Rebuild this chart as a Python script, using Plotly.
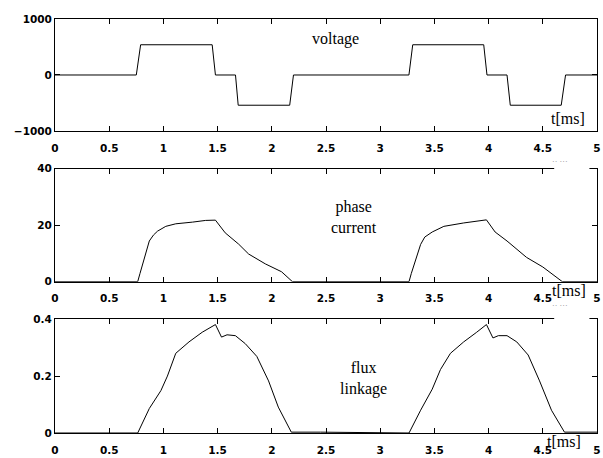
import plotly.graph_objects as go

# ---- data ----
voltage_t = [0, 0.75, 0.79, 1.45, 1.48, 1.665, 1.69, 2.165, 2.2, 3.265, 3.30, 3.955, 3.985, 4.17, 4.20, 4.67, 4.71, 5]
voltage_v = [0, 0, 540, 540, 0, 0, -540, -540, 0, 0, 540, 540, 0, 0, -540, -540, 0, 0]

current_t = [0, 0.763, 0.784, 0.81, 0.839, 0.87, 0.908, 0.946, 1.022, 1.114, 1.27, 1.39, 1.48, 1.57, 1.694, 1.786, 1.94, 2.09, 2.19,
             3.266, 3.287, 3.313, 3.342, 3.373, 3.411, 3.48, 3.587, 3.77, 3.98, 4.06, 4.17, 4.35, 4.50, 4.68, 5]
current_v = [0, 0, 2.9, 6.3, 10.9, 14.4, 16.5, 17.9, 19.6, 20.5, 21.1, 21.7, 21.8, 17.3, 13.3, 9.8, 6.3, 3.5, 0,
             0, 2.9, 6.3, 9.8, 13.2, 15.8, 17.6, 19.6, 20.8, 21.9, 17.6, 14.4, 8.6, 5.2, 0, 0]

flux_t = [0, 0.763, 0.87, 0.977, 1.037, 1.114, 1.236, 1.358, 1.48, 1.536, 1.587, 1.664, 1.755, 1.862, 1.97, 2.06, 2.18, 2.45,
          3.266, 3.373, 3.48, 3.556, 3.648, 3.77, 3.89, 3.98, 4.04, 4.09, 4.17, 4.26, 4.365, 4.47, 4.58, 4.70, 5]
flux_v = [0, 0, 0.086, 0.149, 0.2, 0.28, 0.32, 0.354, 0.381, 0.337, 0.345, 0.342, 0.314, 0.269, 0.183, 0.091, 0.003, 0.003,
          0, 0.08, 0.154, 0.223, 0.28, 0.32, 0.354, 0.381, 0.334, 0.342, 0.342, 0.32, 0.274, 0.183, 0.08, 0.003, 0.003]

x_ticks = [0, 0.5, 1, 1.5, 2, 2.5, 3, 3.5, 4, 4.5, 5]
x_labels = ["0", "0.5", "1", "1.5", "2", "2.5", "3", "3.5", "4", "4.5", "5"]
v_ticks = [-1000, 0, 1000]
i_ticks = [0, 20, 40]
f_ticks = [0, 0.2, 0.4]
f_labels = ["0", "0.2", "0.4"]

line = dict(color="black", width=1.0)
serif = dict(family="Liberation Serif, Times New Roman, serif", size=16, color="black")

fig = go.Figure()
fig.add_trace(go.Scatter(x=voltage_t, y=voltage_v, mode="lines", line=line, xaxis="x", yaxis="y"))
fig.add_trace(go.Scatter(x=current_t, y=current_v, mode="lines", line=line, xaxis="x2", yaxis="y2"))
fig.add_trace(go.Scatter(x=flux_t, y=flux_v, mode="lines", line=line, xaxis="x3", yaxis="y3"))

tickfont = dict(family="DejaVu Sans, sans-serif", size=10.5, color="black", weight="bold")
common_x = dict(range=[0, 5], tickvals=x_ticks, ticktext=x_labels, ticks="inside", ticklen=5,
                showline=True, mirror="allticks", linecolor="black", linewidth=1, tickcolor="black",
                showgrid=False, zeroline=False, tickfont=tickfont, fixedrange=True, ticklabelstandoff=7,
                ticklabeloverflow="allow")
common_y = dict(ticks="inside", ticklen=5, showline=True, mirror="allticks", linecolor="black", linewidth=1,
                tickcolor="black", showgrid=False, zeroline=False, tickfont=tickfont, fixedrange=True,
                ticklabeloverflow="allow")

fig.update_layout(
    width=603, height=458,
    margin=dict(l=55, r=2, t=19, b=15),
    paper_bgcolor="white", plot_bgcolor="white",
    showlegend=False,
    xaxis=dict(common_x, anchor="y"),
    xaxis2=dict(common_x, anchor="y2"),
    xaxis3=dict(common_x, anchor="y3"),
    yaxis=dict(common_y, domain=[0.7295, 1.0], range=[-1000, 1000], tickvals=v_ticks, anchor="x"),
    yaxis2=dict(common_y, domain=[0.3656, 0.6382], range=[0, 40], tickvals=i_ticks, anchor="x2"),
    yaxis3=dict(common_y, domain=[0.0, 0.275], range=[0, 0.4], tickvals=f_ticks, ticktext=f_labels, anchor="x3"),
)

ann = [
    dict(x=2.59, y=650, xref="x", yref="y", text="voltage"),
    dict(x=4.73, y=-770, xref="x", yref="y", text="t[ms]"),
    dict(x=2.76, y=23, xref="x2", yref="y2", text="phase<br>current"),
    dict(x=4.745, y=0.3443, xref="x2", yref="paper", text="t[ms]"),
    dict(x=2.85, y=0.19, xref="x3", yref="y3", text="flux<br>linkage"),
    dict(x=4.70, y=-0.0212, xref="x3", yref="paper", text="t[ms]"),
]
for a in ann:
    fig.add_annotation(showarrow=False, font=serif, bgcolor="rgba(255,255,255,0)",
                       xanchor="center", yanchor="middle", **a)

# gaps in the top borders of the lower panels (as in the pasted original)
for ytop in [0.6382, 0.275]:
    fig.add_shape(type="rect", xref="paper", yref="paper", x0=0.921, x1=0.986,
                  y0=ytop - 0.008, y1=ytop + 0.008, fillcolor="white", line=dict(width=0), layer="above")
    fig.add_annotation(x=0.95, y=ytop + 0.018, xref="paper", yref="paper", showarrow=False,
                       text="·· ···", font=dict(family="Liberation Sans", size=8, color="#888"))

fig.write_html(
    "out.html",
    config={"displayModeBar": False},
    post_script="document.body.style.margin='0';document.documentElement.style.overflow='hidden';",
)
